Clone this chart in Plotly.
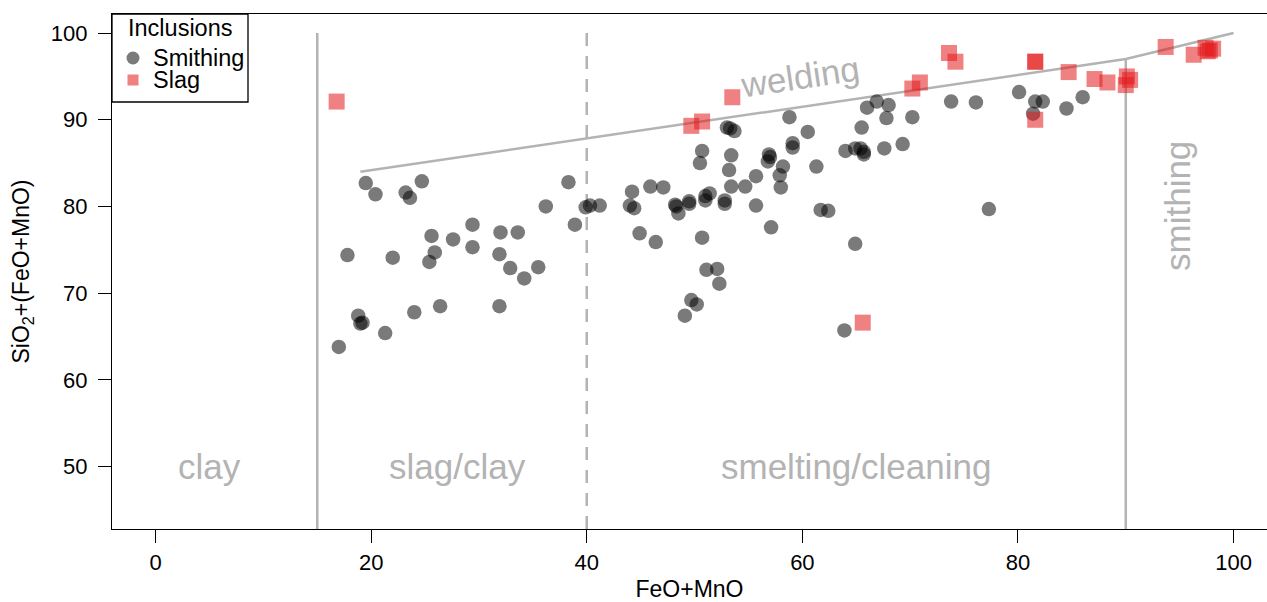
import plotly.graph_objects as go

# Smithing inclusions: FeO+MnO (x) vs SiO2+(FeO+MnO) (y)
smithing_x = [19.5, 20.4, 23.2, 23.6, 24.7, 38.3, 36.2, 39.9, 40.3, 41.2, 38.9, 29.4, 25.6, 27.6, 29.4,
              32.0, 33.6, 17.8, 22.0, 25.9, 25.4, 31.9, 32.9, 34.2, 35.5, 24.0, 26.4, 31.9, 18.8, 19.0,
              19.2, 21.3, 17.0,
              44.2, 44.0, 44.4, 45.9, 47.1, 44.9, 46.4, 48.2, 48.5, 48.3, 49.5, 49.5, 51.0, 51.4, 51.0,
              50.7, 50.5, 50.7, 51.1, 52.1, 53.0, 53.3, 53.7, 53.4, 53.2, 53.4, 52.8, 52.8, 54.7, 55.7,
              55.7, 57.1, 56.9, 57.0, 56.8, 58.2, 57.9, 58.0, 58.8, 59.1, 59.1, 60.5, 61.3, 61.7, 62.4,
              64.0, 64.9, 65.4, 65.7, 65.7, 65.5, 66.0, 66.9, 68.0, 67.8, 67.6, 69.3, 70.2, 64.9, 52.3,
              49.7, 50.2, 49.1, 63.9, 73.8, 76.1, 80.1, 81.6, 82.3, 81.4, 84.5, 86.0, 77.3]
smithing_y = [82.7, 81.4, 81.6, 81.0, 82.9, 82.8, 80.0, 79.9, 80.1, 80.1, 77.9, 77.9, 76.6, 76.2, 75.3,
              77.0, 77.0, 74.4, 74.1, 74.7, 73.6, 74.5, 72.9, 71.7, 73.0, 67.8, 68.5, 68.5, 67.4, 66.5,
              66.6, 65.4, 63.8,
              81.7, 80.1, 79.8, 82.3, 82.2, 76.9, 75.9, 80.2, 79.2, 80.0, 80.6, 80.3, 81.2, 81.5, 80.7,
              86.4, 85.0, 76.4, 72.7, 72.8, 89.1, 89.0, 88.7, 85.9, 84.2, 82.3, 80.7, 80.3, 82.3, 83.5,
              80.1, 77.6, 86.0, 85.7, 85.2, 84.6, 83.6, 82.2, 90.3, 87.3, 86.8, 88.6, 84.6, 79.6, 79.5,
              86.4, 86.7, 86.7, 86.3, 86.0, 89.1, 91.4, 92.1, 91.7, 90.2, 86.7, 87.2, 90.3, 75.7, 71.1,
              69.2, 68.7, 67.4, 65.7, 92.1, 92.0, 93.2, 92.1, 92.1, 90.7, 91.3, 92.6, 79.7]

# Slag inclusions
slag_x = [16.8, 49.7, 50.7, 53.5, 65.6, 70.2, 70.9, 73.6, 74.2, 81.6, 81.6, 81.6, 84.7, 87.1, 88.3,
          90.1, 90.0, 90.4, 93.7, 96.3, 97.4, 97.8, 98.1, 97.6]
slag_y = [92.1, 89.3, 89.8, 92.6, 66.6, 93.6, 94.3, 97.7, 96.7, 96.7, 96.7, 90.0, 95.5, 94.7, 94.3,
          95.0, 94.0, 94.6, 98.4, 97.5, 98.3, 98.0, 98.2, 97.9]

# Field boundaries
boundary_x = [15, 40, 90]
boundary_top = [100, 100, 97]
boundary_dash = ["solid", "13px,10px", "solid"]
welding_x = [19, 90, 100]
welding_y = [84, 97, 100]

# Field labels
field_labels = ["clay", "slag/clay", "smelting/cleaning", "welding", "smithing"]
field_x = [5, 28, 65, 59.8, 94.8]
field_y = [50, 50, 50, 95.0, 80]
field_angle = [0, 0, 0, -8.4, -90]

x_ticks = [0, 20, 40, 60, 80, 100]
y_ticks = [50, 60, 70, 80, 90, 100]

legend_title = "Inclusions"
legend_names = ["Smithing", "Slag"]

XRANGE = [-4.04, 103.1]
YRANGE = [42.8, 102.2]
GREY = "#b3b3b3"
SMITH_COLOR = "rgba(0,0,0,0.52)"
SLAG_COLOR = "rgba(228,26,28,0.55)"
FONT = "Liberation Sans, Arial, sans-serif"

W, H = 1267, 602
ML, MR, MT, MB = 112, 0, 14, 73
PW, PH = W - ML - MR, H - MT - MB


def px(xp):
    """Horizontal pixel position -> paper fraction."""
    return (xp - ML) / PW


def py(yp):
    """Vertical pixel position (from top) -> paper fraction."""
    return (H - MB - yp) / PH


fig = go.Figure()

fig.add_trace(go.Scatter(x=welding_x, y=welding_y, mode="lines",
                         line=dict(color=GREY, width=2.5), showlegend=False, hoverinfo="skip"))

fig.add_trace(go.Scatter(x=smithing_x, y=smithing_y, mode="markers", name=legend_names[0],
                         showlegend=False,
                         marker=dict(symbol="circle", size=14.5, color=SMITH_COLOR,
                                     line=dict(width=0))))
fig.add_trace(go.Scatter(x=slag_x, y=slag_y, mode="markers", name=legend_names[1],
                         showlegend=False,
                         marker=dict(symbol="square", size=16, color=SLAG_COLOR,
                                     line=dict(width=0))))

for bx, top, dash in zip(boundary_x, boundary_top, boundary_dash):
    fig.add_shape(type="line", xref="x", yref="y", x0=bx, x1=bx, y0=top, y1=YRANGE[0],
                  line=dict(color=GREY, width=2.5, dash=dash), layer="below")

for text, fx, fy, ang in zip(field_labels, field_x, field_y, field_angle):
    fig.add_annotation(x=fx, y=fy, xref="x", yref="y", text=text, showarrow=False,
                       textangle=ang, font=dict(size=35, color=GREY, family=FONT))

# Legend box in the top-left corner of the plotting region
fig.add_shape(type="rect", xref="paper", yref="paper",
              x0=px(112), x1=px(248), y0=py(102), y1=py(14),
              line=dict(color="black", width=1.3), fillcolor="white", layer="above")
fig.add_annotation(x=px(180), y=py(28), xref="paper", yref="paper", text=legend_title,
                   showarrow=False, xanchor="center", yanchor="middle",
                   font=dict(size=23.5, family=FONT, color="black"))
fig.add_shape(type="circle", xref="paper", yref="paper",
              x0=px(133 - 6.5), x1=px(133 + 6.5), y0=py(58 + 6.5), y1=py(58 - 6.5),
              line=dict(width=0), fillcolor=SMITH_COLOR, layer="above")
fig.add_shape(type="rect", xref="paper", yref="paper",
              x0=px(133 - 5.5), x1=px(133 + 5.5), y0=py(80 + 5.5), y1=py(80 - 5.5),
              line=dict(width=0), fillcolor=SLAG_COLOR, layer="above")
for name, yp in zip(legend_names, [58, 80]):
    fig.add_annotation(x=px(151), y=py(yp), xref="paper", yref="paper", text=name,
                       showarrow=False, xanchor="left", yanchor="middle",
                       font=dict(size=23.5, family=FONT, color="black"))

fig.update_layout(
    width=W, height=H,
    margin=dict(l=ML, r=MR, t=MT, b=MB, autoexpand=False),
    paper_bgcolor="white", plot_bgcolor="white",
    font=dict(family=FONT, size=22, color="black"),
    showlegend=False,
    xaxis=dict(
        range=XRANGE, tickvals=x_ticks, ticks="outside", ticklen=13, tickwidth=1.3,
        tickcolor="black", showline=True, linecolor="black", linewidth=1.3, mirror=True,
        showgrid=False, zeroline=False, ticklabelstandoff=0, automargin=False,
        title=dict(text="FeO+MnO", standoff=18, font=dict(size=23)),
        tickfont=dict(size=22),
    ),
    yaxis=dict(
        range=YRANGE, tickvals=y_ticks, ticks="outside", ticklen=13, tickwidth=1.3,
        tickcolor="black", showline=True, linecolor="black", linewidth=1.3, mirror=False,
        showgrid=False, zeroline=False, ticklabelstandoff=6, automargin=False,
        title=dict(text="SiO<sub>2</sub>+(FeO+MnO)", standoff=14, font=dict(size=23)),
        tickfont=dict(size=22),
    ),
)

fig.write_html("out.html")
